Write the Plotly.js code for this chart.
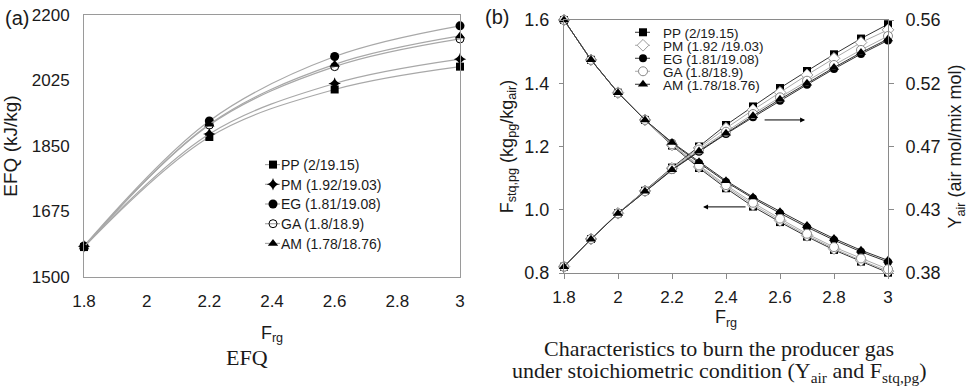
<!DOCTYPE html>
<html>
<head>
<meta charset="utf-8">
<script src="https://cdn.plot.ly/plotly-3.0.1.min.js"></script>
<style>html,body{margin:0;padding:0;background:#fff;}#chart{width:968px;height:389px;}</style>
</head>
<body>
<div id="chart"></div>
<script>
// ---------- data ----------
const seriesNames = ["PP (2/19.15)", "PM (1.92/19.03)", "EG (1.81/19.08)", "GA (1.8/18.9)", "AM (1.78/18.76)"];
const seriesNamesB = ["PP (2/19.15)", "PM (1.92 /19.03)", "EG (1.81/19.08)", "GA (1.8/18.9)", "AM (1.78/18.76)"];

// panel (a): EFQ vs F_rg
const frgA = [1.8, 2.2, 2.6, 3.0];
const efqPP = [1580, 1874, 2001, 2062];
const efqPM = [1582, 1882, 2017, 2082];
const efqEG = [1583, 1917, 2089, 2171];
const efqGA = [1581, 1906, 2062, 2136];
const efqAM = [1580, 1908, 2068, 2144];

// panel (b): F_stq,pg and Y_air vs F_rg
const frgB = [1.8, 1.9, 2.0, 2.1, 2.2, 2.3, 2.4, 2.5, 2.6, 2.7, 2.8, 2.9, 3.0];
const fstqPP = [1.600, 1.474, 1.370, 1.284, 1.203, 1.132, 1.068, 1.010, 0.961, 0.915, 0.873, 0.836, 0.801];
const fstqPM = [1.600, 1.474, 1.370, 1.284, 1.205, 1.136, 1.073, 1.016, 0.966, 0.919, 0.877, 0.840, 0.806];
const fstqEG = [1.600, 1.474, 1.370, 1.284, 1.211, 1.148, 1.088, 1.036, 0.989, 0.945, 0.904, 0.867, 0.835];
const fstqGA = [1.600, 1.474, 1.370, 1.284, 1.207, 1.140, 1.078, 1.022, 0.972, 0.924, 0.882, 0.846, 0.812];
const fstqAM = [1.600, 1.474, 1.370, 1.284, 1.213, 1.152, 1.092, 1.040, 0.994, 0.950, 0.909, 0.872, 0.840];

const yairPP = [0.3845, 0.4042, 0.4225, 0.4385, 0.4550, 0.4700, 0.4853, 0.4985, 0.5116, 0.5237, 0.5356, 0.5468, 0.5570];
const yairPM = [0.3845, 0.4042, 0.4225, 0.4384, 0.4545, 0.4690, 0.4830, 0.4960, 0.5085, 0.5209, 0.5327, 0.5440, 0.5530];
const yairEG = [0.3845, 0.4041, 0.4223, 0.4380, 0.4532, 0.4663, 0.4789, 0.4908, 0.5026, 0.5140, 0.5252, 0.5358, 0.5455];
const yairGA = [0.3845, 0.4042, 0.4224, 0.4382, 0.4540, 0.4678, 0.4805, 0.4931, 0.5050, 0.5168, 0.5280, 0.5387, 0.5486];
const yairAM = [0.3845, 0.4041, 0.4223, 0.4381, 0.4535, 0.4668, 0.4795, 0.4918, 0.5036, 0.5150, 0.5262, 0.5368, 0.5465];

const yairTickVals = [0.38, 0.425, 0.47, 0.515, 0.56];
const yairTickText = ["0.38", "0.43", "0.47", "0.52", "0.56"];
const efqTickVals = [1500, 1675, 1850, 2025, 2200];

// ---------- styles ----------
const FONT = "Liberation Sans, Arial, sans-serif";
const SERIF = "Liberation Serif, Times New Roman, serif";
const markA = [
  {symbol: "square", size: 8, color: "#000", line: {width: 0}},
  {symbol: "star-diamond", size: 9, color: "#000", line: {width: 0}},
  {symbol: "circle", size: 9, color: "#000", line: {width: 0}},
  {symbol: "circle-open", size: 8, color: "#000", line: {width: 1}},
  {symbol: "triangle-up", size: 9, color: "#000", line: {width: 0}}
];
const markB = [
  {symbol: "square", size: 8, color: "#000", line: {width: 0}},
  {symbol: "diamond", size: 9, color: "#fff", line: {width: 1, color: "#999"}},
  {symbol: "circle", size: 8, color: "#000", line: {width: 0}},
  {symbol: "circle", size: 9, color: "#fff", line: {width: 1, color: "#888"}},
  {symbol: "triangle-up", size: 9, color: "#000", line: {width: 0}}
];
const lineB = ["#333", "#aaa", "#333", "#aaa", "#333"];

const efqAll = [efqPP, efqPM, efqEG, efqGA, efqAM];
const fstqAll = [fstqPP, fstqPM, fstqEG, fstqGA, fstqAM];
const yairAll = [yairPP, yairPM, yairEG, yairGA, yairAM];

const traces = [];
efqAll.forEach((ys, i) => {
  traces.push({
    x: frgA, y: ys, xaxis: "x", yaxis: "y", name: seriesNames[i],
    type: "scatter", mode: "lines+markers", cliponaxis: false,
    line: {shape: "spline", smoothing: 1.0, color: "#a8a8a8", width: 1.2},
    marker: markA[i], legend: "legend"
  });
});
yairAll.forEach((ys, i) => {
  traces.push({
    x: frgB, y: ys, xaxis: "x2", yaxis: "y3", name: seriesNamesB[i],
    type: "scatter", mode: "lines+markers", cliponaxis: false, showlegend: false,
    line: {color: lineB[i], width: 1},
    marker: markB[i], legend: "legend2"
  });
});
fstqAll.forEach((ys, i) => {
  traces.push({
    x: frgB, y: ys, xaxis: "x2", yaxis: "y2", name: seriesNamesB[i],
    type: "scatter", mode: "lines+markers", cliponaxis: false,
    line: {color: lineB[i], width: 1},
    marker: markB[i], legend: "legend2"
  });
});

const W = 968, H = 389;
const px = v => v / W, py = v => 1 - v / H;

const tickFont = {family: FONT, size: 17, color: "#1a1a1a"};
const layout = {
  width: W, height: H,
  margin: {l: 0, r: 0, t: 0, b: 0},
  paper_bgcolor: "#fff", plot_bgcolor: "#fff",
  font: {family: FONT, color: "#1a1a1a"},
  showlegend: true,
  xaxis: {
    domain: [px(84), px(460)], range: [1.8, 3.0], dtick: 0.2, tick0: 1.8,
    showgrid: false, zeroline: false, showline: true, mirror: true, linecolor: "#9a9a9a", linewidth: 1,
    ticks: "", tickfont: tickFont, ticklabelstandoff: 9,
    title: {text: "F<sub>rg</sub>", font: {family: FONT, size: 18}, standoff: 15}
  },
  yaxis: {
    domain: [py(277), py(15)], range: [1500, 2200], tickmode: "array", tickvals: efqTickVals,
    showgrid: false, zeroline: false, showline: true, mirror: true, linecolor: "#9a9a9a", linewidth: 1,
    ticks: "", tickfont: tickFont, ticklabelstandoff: 10,
    title: {text: "EFQ (kJ/kg)", font: {family: FONT, size: 19}, standoff: 10}
  },
  xaxis2: {
    domain: [px(564), px(888)], range: [1.8, 3.0], dtick: 0.2, tick0: 1.8, anchor: "y2",
    showgrid: false, zeroline: false, showline: true, mirror: true, linecolor: "#8a8a8a", linewidth: 1,
    ticks: "outside", ticklen: 5, tickcolor: "#8a8a8a", tickfont: tickFont, ticklabelstandoff: 4,
    title: {text: "F<sub>rg</sub>", font: {family: FONT, size: 18}, standoff: 2}
  },
  yaxis2: {
    domain: [py(273), py(20)], range: [0.8, 1.6], dtick: 0.2, tick0: 0.8, tickformat: ".1f", anchor: "x2",
    showgrid: false, zeroline: false, showline: true, linecolor: "#8a8a8a", linewidth: 1,
    ticks: "outside", ticklen: 4, tickcolor: "#8a8a8a", tickfont: {family: FONT, size: 18, color: "#1a1a1a"}, ticklabelstandoff: 6,
    title: {text: "F<sub>stq,pg</sub> (kg<sub>pg</sub>/kg<sub>air</sub>)", font: {family: FONT, size: 18}, standoff: 6}
  },
  yaxis3: {
    domain: [py(273), py(20)], range: [0.38, 0.56], overlaying: "y2", side: "right", anchor: "x2",
    tickmode: "array", tickvals: yairTickVals, ticktext: yairTickText,
    showgrid: false, zeroline: false, showline: true, linecolor: "#8a8a8a", linewidth: 1,
    ticks: "outside", ticklen: 5, tickcolor: "#8a8a8a", tickfont: {family: FONT, size: 18, color: "#1a1a1a"}, ticklabelstandoff: 8,
    title: {text: "Y<sub>air</sub> (air mol/mix mol)", font: {family: FONT, size: 18}, standoff: 8}
  },
  legend: {
    x: px(253), y: py(149), xanchor: "left", yanchor: "top",
    bgcolor: "rgba(0,0,0,0)", borderwidth: 0, font: {family: FONT, size: 14, color: "#1a1a1a"},
    itemwidth: 30, tracegroupgap: 0
  },
  legend2: {
    x: px(623), y: py(17), xanchor: "left", yanchor: "top",
    bgcolor: "rgba(0,0,0,0)", borderwidth: 0, font: {family: FONT, size: 13.5, color: "#1a1a1a"},
    itemwidth: 30, tracegroupgap: 0
  },
  annotations: [
    {text: "(a)", xref: "paper", yref: "paper", x: px(3), y: py(18), xanchor: "left", yanchor: "middle", showarrow: false, font: {family: FONT, size: 20}},
    {text: "(b)", xref: "paper", yref: "paper", x: px(483), y: py(17), xanchor: "left", yanchor: "middle", showarrow: false, font: {family: FONT, size: 20}},
    {text: "EFQ", xref: "paper", yref: "paper", x: px(247), y: py(357), xanchor: "center", yanchor: "middle", showarrow: false, font: {family: SERIF, size: 22}},
    {text: "Characteristics to burn the producer gas", xref: "paper", yref: "paper", x: px(719), y: py(348), xanchor: "center", yanchor: "middle", showarrow: false, font: {family: SERIF, size: 22}},
    {text: "under stoichiometric condition (Y<sub>air</sub> and F<sub>stq,pg</sub>)", xref: "paper", yref: "paper", x: px(719), y: py(372), xanchor: "center", yanchor: "middle", showarrow: false, font: {family: SERIF, size: 22}},
    {text: "", xref: "x2", yref: "y2", x: 2.693, y: 1.284, ax: -42, ay: 0, showarrow: true, arrowhead: 2, arrowsize: 1, arrowwidth: 1, arrowcolor: "#000"},
    {text: "", xref: "x2", yref: "y2", x: 2.315, y: 1.009, ax: 44, ay: 0, showarrow: true, arrowhead: 2, arrowsize: 1, arrowwidth: 1, arrowcolor: "#000"}
  ]
};

// tighten legend rows and shorten the legend symbol lines (as in the reference)
function tidyLegend(id, spacing) {
  const gd = document.getElementById("chart");
  const items = gd.querySelectorAll("g." + id + " g.traces");
  if (!items.length) return;
  let y0 = null;
  items.forEach((it, i) => {
    const tr = it.getAttribute("transform") || "";
    const m = tr.match(/translate\(\s*([-\d.e]+)[ ,]+([-\d.e]+)\s*\)/);
    if (m) {
      const x = parseFloat(m[1]), y = parseFloat(m[2]);
      if (y0 === null) y0 = y;
      it.setAttribute("transform", "translate(" + x + "," + (y0 + i * spacing) + ")");
    }
    it.querySelectorAll("path.js-line").forEach(p => p.setAttribute("d", "M12,0h15"));
    const t = it.querySelector("text.legendtext");
    if (t) {
      t.setAttribute("x", 28);
      t.querySelectorAll("tspan[x]").forEach(s => s.setAttribute("x", 28));
    }
  });
}

Plotly.newPlot("chart", traces, layout, {staticPlot: true}).then(() => {
  tidyLegend("legend", 19.7);
  tidyLegend("legend2", 13);
});
</script>
</body>
</html>
